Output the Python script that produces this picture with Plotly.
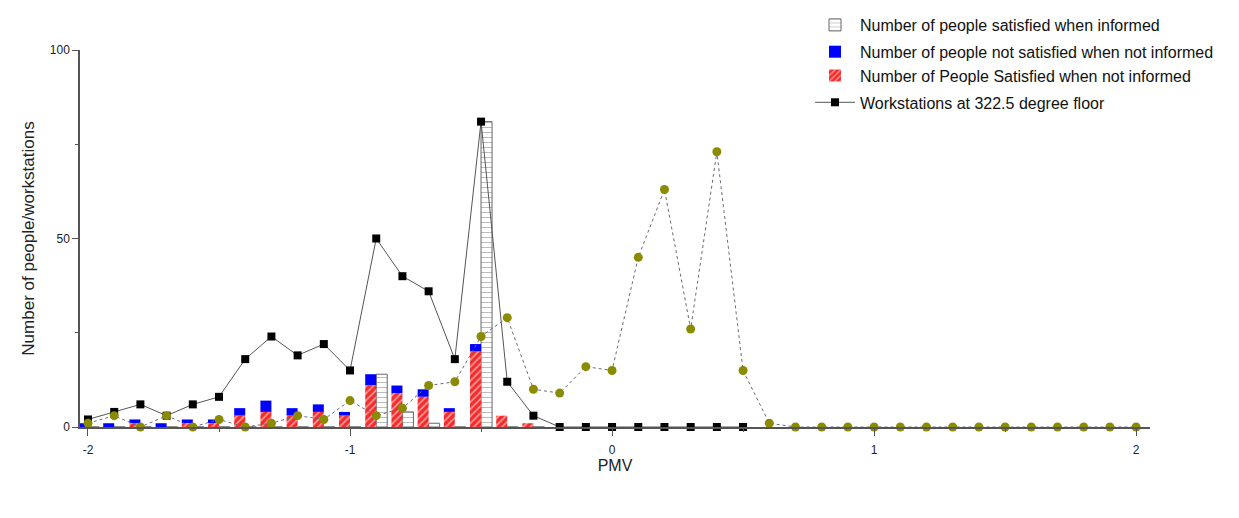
import plotly.graph_objects as go

# ---- data ----
bar_pmv = [-2.0, -1.9, -1.8, -1.7, -1.6, -1.5, -1.4, -1.3, -1.2, -1.1, -1.0,
           -0.9, -0.8, -0.7, -0.6, -0.5, -0.4, -0.3]
sat_not_informed = [0, 0, 1, 0, 1, 1, 3, 4, 3, 4, 3, 11, 9, 8, 4, 20, 3, 1]
not_sat_not_informed = [1, 1, 1, 1, 1, 1, 2, 3, 2, 2, 1, 3, 2, 2, 1, 2, 0, 0]
sat_informed = [0, 0, 0, 0, 0, 0, 0, 0, 0, 0, 0, 14, 4, 1, 0, 81, 0, 0]

ws_pmv = [-2.0, -1.9, -1.8, -1.7, -1.6, -1.5, -1.4, -1.3, -1.2, -1.1, -1.0,
          -0.9, -0.8, -0.7, -0.6, -0.5, -0.4, -0.3, -0.2, -0.1, 0.0, 0.1,
          0.2, 0.3, 0.4, 0.5]
workstations = [2, 4, 6, 3, 6, 8, 18, 24, 19, 22, 15, 50, 40, 36, 18, 81, 12, 3,
                0, 0, 0, 0, 0, 0, 0, 0]

ol_pmv = [-2.0, -1.9, -1.8, -1.7, -1.6, -1.5, -1.4, -1.3, -1.2, -1.1, -1.0,
          -0.9, -0.8, -0.7, -0.6, -0.5, -0.4, -0.3, -0.2, -0.1, 0.0, 0.1,
          0.2, 0.3, 0.4, 0.5, 0.6, 0.7, 0.8, 0.9, 1.0, 1.1, 1.2, 1.3, 1.4,
          1.5, 1.6, 1.7, 1.8, 1.9, 2.0]
olive_series = [1, 3, 0, 3, 0, 2, 0, 1, 3, 2, 7, 3, 5, 11, 12, 24, 29, 10, 9, 16,
                15, 45, 63, 26, 73, 15, 1, 0, 0, 0, 0, 0, 0, 0, 0, 0, 0, 0, 0, 0, 0]

BW = 0.042
FONT = "Liberation Sans, Arial, sans-serif"
W, H = 1231, 510  # page body has an 8px margin

fig = go.Figure()

fig.add_trace(go.Bar(
    x=bar_pmv, y=sat_informed, width=BW, offset=0,
    name="Number of people satisfied when informed", legendgroup="a",
    marker=dict(color="white", line=dict(color="#666", width=1),
                pattern=dict(shape="-", fgcolor="#777", size=5, solidity=0.2,
                             fillmode="overlay")),
))
fig.add_trace(go.Bar(
    x=bar_pmv, y=not_sat_not_informed, base=sat_not_informed, width=BW, offset=-BW,
    name="Number of people not satisfied when not informed", legendgroup="b",
    marker=dict(color="#0000ff", line=dict(width=0)),
))
fig.add_trace(go.Bar(
    x=bar_pmv, y=sat_not_informed, width=BW, offset=-BW,
    name="Number of People Satisfied when not informed", legendgroup="b",
    marker=dict(color="#f52a2a", line=dict(width=0),
                pattern=dict(shape="/", fgcolor="white", size=5, solidity=0.35,
                             fillmode="overlay")),
))
fig.add_trace(go.Scatter(
    x=ws_pmv, y=workstations, mode="lines+markers",
    name="Workstations at 322.5 degree floor", legendgroup="c",
    line=dict(color="#555", width=1),
    marker=dict(symbol="square", size=8, color="black"),
    cliponaxis=False,
))
fig.add_trace(go.Scatter(
    x=ol_pmv, y=olive_series, mode="lines+markers", showlegend=False,
    line=dict(color="#6a6a7a", width=1, dash="dot"),
    marker=dict(symbol="circle", size=9, color="#8b8b00"),
    cliponaxis=False,
))

fig.update_layout(
    width=W, height=H,
    paper_bgcolor="white", plot_bgcolor="white",
    margin=dict(l=72, r=89, t=42, b=91, autoexpand=False),
    barmode="overlay",
    font=dict(family=FONT, size=13, color="#222"),
    legend=dict(x=802 / W, y=1 + 7 / H, xref="container", yref="container",
                xanchor="left", yanchor="top",
                traceorder="grouped", tracegroupgap=3,
                font=dict(size=16, color="#111"), itemwidth=40,
                bgcolor="rgba(255,255,255,0)"),
    xaxis=dict(
        range=[-2.0305, 2.053], showgrid=False, zeroline=False, automargin=False,
        showline=True, linecolor="#555", linewidth=1.5,
        tickmode="array", tickvals=[-2, -1, 0, 1, 2], ticktext=["-2", "-1", "0", "1", "2"],
        ticks="outside", ticklen=7, tickcolor="#555", ticklabelstandoff=4,
        minor=dict(tickvals=[-1.5, -0.5, 0.5, 1.5], ticks="outside", ticklen=3, tickcolor="#555"),
        tickfont=dict(size=12),
        title=dict(text="PMV", font=dict(size=16), standoff=4),
    ),
    yaxis=dict(
        range=[0, 100], showgrid=False, zeroline=False, automargin=False,
        showline=True, linecolor="#555", linewidth=1.5,
        tickmode="array", tickvals=[0, 50, 100],
        ticks="outside", ticklen=6, tickcolor="#555",
        minor=dict(tickvals=[25, 75], ticks="outside", ticklen=3, tickcolor="#555"),
        tickfont=dict(size=12),
        title=dict(text="Number of people/workstations", font=dict(size=17), standoff=11),
    ),
)

fig.write_html("out.html")
